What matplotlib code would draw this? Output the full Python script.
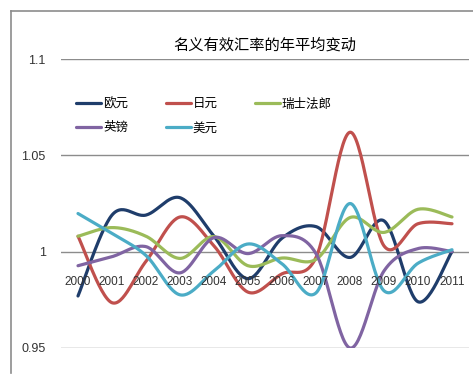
import numpy as np
import matplotlib.pyplot as plt
from matplotlib.lines import Line2D

plt.rcParams['font.family'] = ['Noto Sans CJK SC', 'DejaVu Sans']
numfont = ['Liberation Sans', 'DejaVu Sans']

years = ['2000', '2001', '2002', '2003', '2004', '2005',
         '2006', '2007', '2008', '2009', '2010', '2011']

euro = [0.977, 1.019, 1.019, 1.028, 1.008, 0.986, 1.007, 1.013, 0.997, 1.016, 0.974, 1.000]
yen = [1.008, 0.9735, 0.995, 1.018, 1.003, 0.979, 0.9885, 0.997, 1.062, 1.003, 1.0145, 1.0145]
chf = [1.008, 1.0125, 1.008, 0.9965, 1.0078, 0.9927, 0.9967, 0.996, 1.0177, 1.010, 1.022, 1.018]
gbp = [0.9927, 0.9974, 1.0026, 0.989, 1.0073, 0.999, 1.0083, 0.999, 0.950, 0.990, 1.0016, 1.000]
usd = [1.0198, 1.0094, 0.998, 0.9776, 0.990, 1.004, 0.9937, 0.9786, 1.025, 0.9797, 0.994, 1.001]

names = ['欧元', '日元', '瑞士法郎', '英镑', '美元']
colors = ['#1F3D6B', '#C0504D', '#9BBB59', '#8064A2', '#4BACC6']


def smooth(x, y, n=30):
    # Excel-style smoothed line: Catmull-Rom Bezier through the points
    x = np.asarray(x, float)
    y = np.asarray(y, float)
    px, py = [], []
    t = np.linspace(0, 1, n)
    for i in range(len(x) - 1):
        i0 = max(i - 1, 0)
        i3 = min(i + 2, len(x) - 1)
        c1x = x[i] + (x[i + 1] - x[i0]) / 6
        c1y = y[i] + (y[i + 1] - y[i0]) / 6
        c2x = x[i + 1] - (x[i3] - x[i]) / 6
        c2y = y[i + 1] - (y[i3] - y[i]) / 6
        b0 = (1 - t) ** 3
        b1 = 3 * (1 - t) ** 2 * t
        b2 = 3 * (1 - t) * t ** 2
        b3 = t ** 3
        px.extend(b0 * x[i] + b1 * c1x + b2 * c2x + b3 * x[i + 1])
        py.extend(b0 * y[i] + b1 * c1y + b2 * c2y + b3 * y[i + 1])
    return px, py


W, H = 473, 375
fig = plt.figure(figsize=(W / 100, H / 100), dpi=100)
ax = fig.add_axes([61 / W, 1 - 348 / H, (469 - 61) / W, (348 - 59) / H])

xs = np.arange(len(years))
series = [euro, yen, chf, gbp, usd]
handles = []
for vals, name, col in zip(series, names, colors):
    sx, sy = smooth(xs, vals)
    h, = ax.plot(sx, sy, color=col, lw=2.3, label=name, solid_capstyle='round')
    handles.append(h)

ax.set_xlim(-0.5, 11.5)
ax.set_ylim(0.95, 1.1)
ax.set_yticks([0.95, 1.0, 1.05, 1.1])
ax.set_yticklabels(['0.95', '1', '1.05', '1.1'], family=numfont, fontsize=9)
ax.grid(axis='y', color='#8C8C8C', lw=1)
ax.set_axisbelow(True)
for s in ax.spines.values():
    s.set_visible(False)
ax.tick_params(axis='y', length=0, pad=11, labelcolor='#333333')
ax.set_xticks([])
for i, yr in enumerate(years):
    ax.text(i, 0.9875, yr, ha='center', va='top', fontsize=8.5,
            family=numfont, color='#333333')

ax.set_title('名义有效汇率的年平均变动', fontsize=11, pad=7)

order = [0, 3, 1, 4, 2]
ax.legend([handles[i] for i in order], [names[i] for i in order], ncol=3,
          loc='upper left', bbox_to_anchor=(0.01, 0.905), frameon=False,
          fontsize=9, handlelength=2.0, handletextpad=0.15, columnspacing=3.0,
          labelspacing=0.85)

# outer chart border (left and top only visible)
fig.add_artist(Line2D([11 / W, 11 / W], [1 - 11 / H, 1 - 373 / H], color='#8C8C8C', lw=1.2))
fig.add_artist(Line2D([11 / W, 1.0], [1 - 11 / H, 1 - 11 / H], color='#8C8C8C', lw=1.2))

fig.savefig('out.png', dpi=100)
